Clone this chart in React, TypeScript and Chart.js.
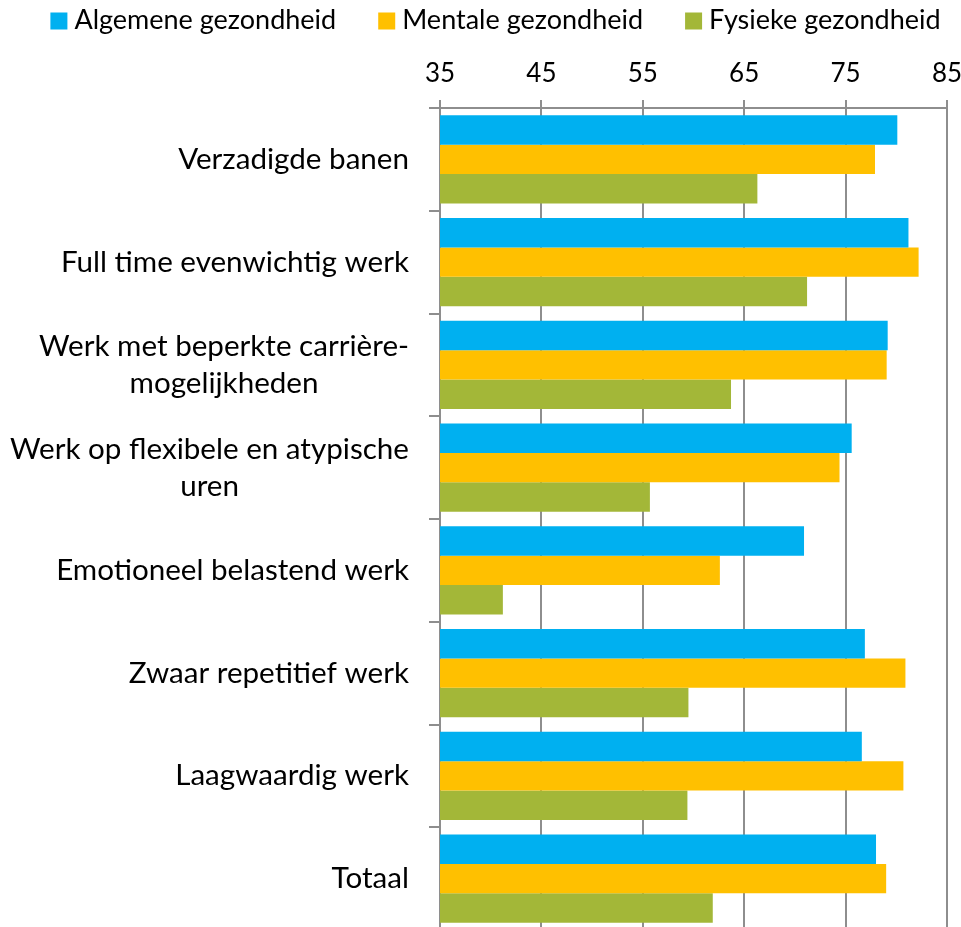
import React, { useEffect, useRef } from "react";
import { Chart, registerables } from "chart.js";

Chart.register(...registerables);

const categories: (string | string[])[] = [
  "Verzadigde banen",
  "Full time evenwichtig werk",
  ["Werk met beperkte carrière-", "mogelijkheden"],
  ["Werk op flexibele en atypische", "uren"],
  "Emotioneel belastend werk",
  "Zwaar repetitief werk",
  "Laagwaardig werk",
  "Totaal",
];

const seriesNames = ["Algemene gezondheid", "Mentale gezondheid", "Fysieke gezondheid"];
const algemeneValues = [80.1, 81.2, 79.15, 75.6, 70.9, 76.9, 76.6, 78.0];
const mentaleValues = [77.9, 82.2, 79.05, 74.4, 62.6, 80.9, 80.7, 79.0];
const fysiekeValues = [66.3, 71.2, 63.7, 55.7, 41.2, 59.5, 59.4, 61.9];
const seriesColors = ["#00B0F0", "#FFC000", "#A3B738"];

const xMin = 35;
const xMax = 85;
const xStep = 10;

const FONT_FAMILY = 'Lato, "Open Sans", sans-serif';
const TICK_FONT_SIZE = 26;
const LEGEND_FONT_SIZE = 27;
const LABEL_FONT_SIZE = 29.6;
const GRID_COLOR = "#8e8e8e";
const W = 961;
const H = 930;

const legendPlugin = {
  id: "customLegend",
  afterDraw(chart: any) {
    const ctx = chart.ctx as CanvasRenderingContext2D;
    ctx.save();
    ctx.font = `${LEGEND_FONT_SIZE}px ${FONT_FAMILY}`;
    const box = 17;
    const gapBoxText = 7;
    const gapItems = 42;
    const items = chart.data.datasets.map((d: any) => ({
      label: d.label as string,
      color: d.backgroundColor as string,
      w: ctx.measureText(d.label).width,
    }));
    const total =
      items.reduce((s: number, it: any) => s + box + gapBoxText + it.w, 0) +
      gapItems * (items.length - 1);
    let x = chart.width / 2 + 15 - total / 2;
    const cy = 20;
    items.forEach((it: any) => {
      ctx.fillStyle = it.color;
      ctx.fillRect(x, cy - box / 2 + 1, box, box);
      x += box + gapBoxText;
      ctx.fillStyle = "#000";
      ctx.textBaseline = "middle";
      ctx.textAlign = "left";
      ctx.fillText(it.label, x, cy);
      x += it.w + gapItems;
    });
    ctx.restore();
  },
};

const yLabelPlugin = {
  id: "yLabels",
  afterDraw(chart: any) {
    const ctx = chart.ctx as CanvasRenderingContext2D;
    const yScale = chart.scales.y;
    ctx.save();
    ctx.font = `${LABEL_FONT_SIZE}px ${FONT_FAMILY}`;
    ctx.fillStyle = "#000";
    ctx.textBaseline = "middle";
    ctx.textAlign = "center";
    const right = chart.chartArea.left - 31;
    const lh = 37;
    chart.data.labels.forEach((lab: any, i: number) => {
      const lines: string[] = Array.isArray(lab) ? lab : [lab];
      const maxW = Math.max(...lines.map((l) => ctx.measureText(l).width));
      const cx = right - maxW / 2;
      const cy = yScale.getPixelForTick(i);
      lines.forEach((l, k) => {
        ctx.fillText(l, cx, cy + (k - (lines.length - 1) / 2) * lh);
      });
    });
    ctx.restore();
  },
};

export default function App() {
  const canvasRef = useRef<HTMLCanvasElement | null>(null);

  useEffect(() => {
    if (!canvasRef.current) return;
    const valueSets = [algemeneValues, mentaleValues, fysiekeValues];
    const chart = new Chart(canvasRef.current, {
      type: "bar",
      data: {
        labels: categories as any,
        datasets: seriesNames.map((name, i) => ({
          label: name,
          data: valueSets[i],
          backgroundColor: seriesColors[i],
          borderWidth: 0,
          barPercentage: 1,
          categoryPercentage: 0.86,
        })),
      },
      options: {
        indexAxis: "y",
        responsive: false,
        animation: false,
        layout: { padding: { top: 48, left: 0, right: 0, bottom: 0 } },
        plugins: {
          legend: { display: false },
          tooltip: { enabled: false },
        },
        scales: {
          x: {
            position: "top",
            min: xMin,
            max: xMax,
            ticks: {
              stepSize: xStep,
              font: { family: FONT_FAMILY, size: TICK_FONT_SIZE },
              color: "#000",
              padding: 11,
              maxRotation: 0,
            },
            grid: { color: GRID_COLOR, lineWidth: 2, tickLength: 8, drawTicks: true },
            border: { color: GRID_COLOR, width: 2 },
            afterFit: (s: any) => {
              s.height = 60;
              s.paddingRight = 14;
              s.paddingLeft = 0;
            },
          },
          y: {
            ticks: { display: false },
            grid: {
              drawOnChartArea: false,
              color: GRID_COLOR,
              lineWidth: 2,
              tickLength: 11,
              offset: true,
            },
            border: { color: GRID_COLOR, width: 2 },
            afterFit: (s: any) => {
              s.width = 440;
            },
          },
        },
      },
      plugins: [legendPlugin, yLabelPlugin],
    });
    return () => chart.destroy();
  }, []);

  return (
    <div style={{ position: "fixed", left: 0, top: 0, width: W, height: H, background: "#fff" }}>
      <canvas ref={canvasRef} width={W} height={H} style={{ width: W, height: H }} />
    </div>
  );
}
